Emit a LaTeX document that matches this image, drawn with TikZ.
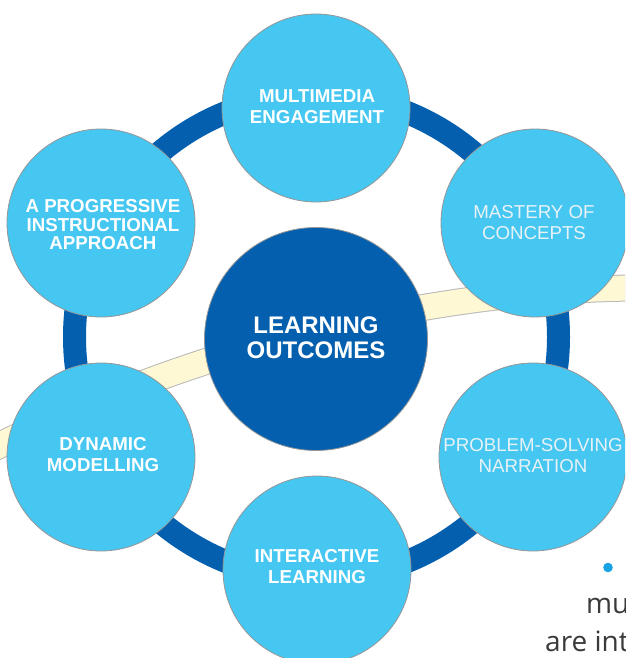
\documentclass[tikz,border=0pt]{standalone}
\usepackage{fontspec}
\setmainfont{Liberation Sans}
\newfontfamily\bodyfont{Open Sans}
\definecolor{lightblue}{RGB}{69,199,242}
\definecolor{darkblue}{RGB}{4,96,175}
\definecolor{cream}{RGB}{255,248,212}
\definecolor{creamedge}{RGB}{185,185,185}
\definecolor{circedge}{RGB}{150,150,150}
\definecolor{softwhite}{RGB}{232,242,246}
\definecolor{bodygray}{RGB}{58,58,58}
\definecolor{dotblue}{RGB}{26,163,227}
\tikzset{
  outercirc/.style={circle, fill=lightblue, draw=circedge, line width=0.8pt, minimum size=188pt, inner sep=0pt},
  centercirc/.style={circle, fill=darkblue, draw=circedge, line width=0.8pt, minimum size=223pt, inner sep=0pt},
  boldlabel/.style={align=center, text=white, inner sep=0pt, font=\bfseries\fontsize{18.7}{21}\selectfont},
  thinlabel/.style={align=center, text=softwhite, inner sep=0pt, font=\fontsize{18.7}{21}\selectfont},
  ringline/.style={draw=darkblue, line width=23pt},
  bodytext/.style={anchor=base west, inner sep=0pt, text=bodygray, font=\bodyfont\fontsize{28}{34}\selectfont}
}
\begin{document}
\begin{tikzpicture}[x=1pt,y=-1pt]
\useasboundingbox (0,0) rectangle (625,658);
\clip (0,0) rectangle (625,658);
\fill[white] (0,0) rectangle (625,658);
% cream band
\draw[line width=27pt, draw=creamedge] (-10,450) .. controls (190,350) and (420,290) .. (635,288);
\draw[line width=25pt, draw=cream] (-10,450) .. controls (190,350) and (420,290) .. (635,288);
% ring
\coordinate (ringc) at (316.5,337);
\draw[ringline] (ringc) circle[radius=242];
% circles
\node[centercirc] (center) at (316,339) {};
\node[outercirc] (top) at (316,108) {};
\node[outercirc] (ur) at (535,223) {};
\node[outercirc] (lr) at (533,457) {};
\node[outercirc] (bot) at (317,570) {};
\node[outercirc] (ll) at (101,457) {};
\node[outercirc] (ul) at (101,223) {};
% labels
\node[boldlabel, font=\bfseries\fontsize{24}{25}\selectfont] (tcenter) at (316,337.5) {LEARNING\\OUTCOMES};
\node[boldlabel] (ttop) at (317,106.5) {MULTIMEDIA\\ENGAGEMENT};
\node[thinlabel] (tur) at (534,222.5) {MASTERY OF\\CONCEPTS};
\node[thinlabel] (tlr) at (533,456) {PROBLEM-SOLVING\\NARRATION};
\node[boldlabel] (tbot) at (317,566.5) {INTERACTIVE\\LEARNING};
\node[boldlabel] (tll) at (103,455) {DYNAMIC\\MODELLING};
\node[boldlabel, font=\bfseries\fontsize{18.7}{18.5}\selectfont] (tul) at (103,225) {A PROGRESSIVE\\INSTRUCTIONAL\\APPROACH};
% bottom right text fragment
\fill[dotblue] (608,567.5) circle[radius=4.8];
\node[bodytext] (mu) at (586,613) {mu};
\node[bodytext] (are) at (545,651.5) {are int};
\end{tikzpicture}
\end{document}
